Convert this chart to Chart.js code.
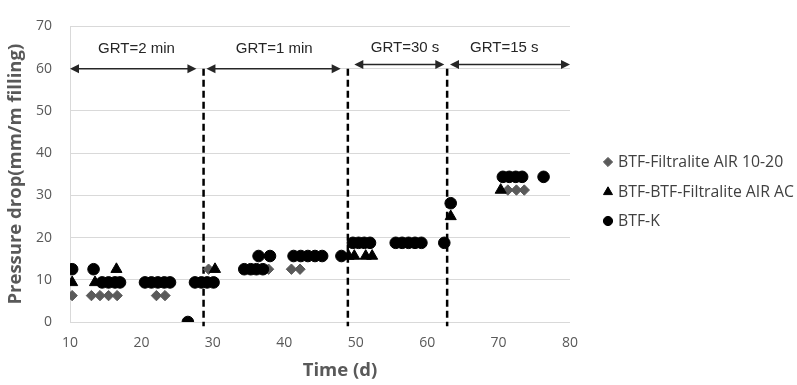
<!DOCTYPE html>
<html><head><meta charset="utf-8">
<script src="https://cdn.jsdelivr.net/npm/chart.js@4"></script>
<style>html,body{margin:0;padding:0;background:#fff}canvas{display:block}</style>
</head><body><canvas id="c" width="797" height="385" style="width:797px;height:385px"></canvas>
<script>
const seriesNames = ['BTF-Filtralite AIR 10-20', 'BTF-BTF-Filtralite AIR AC', 'BTF-K'];
const xTicks = [10, 20, 30, 40, 50, 60, 70, 80];
const yTicks = [0, 10, 20, 30, 40, 50, 60, 70];

const diamondX = [10.3, 13.0, 14.2, 15.4, 16.6, 22.1, 23.3, 29.4, 37.8, 41.0, 42.2, 71.3, 72.5, 73.6];
const diamondY = [6.25, 6.25, 6.25, 6.25, 6.25, 6.25, 6.25, 12.5, 12.5, 12.5, 12.5, 31.25, 31.25, 31.25];

const triangleX = [10.3, 13.5, 16.5, 30.3, 49.0, 49.8, 51.4, 52.3, 63.3, 70.3];
const triangleY = [9.375, 9.375, 12.5, 12.5, 15.625, 15.625, 15.625, 15.625, 25, 31.25];

const circleX = [10.3, 13.3, 14.5, 15.4, 16.3, 17.0, 20.5, 21.4, 22.3, 23.2, 24.0, 26.5, 27.5, 28.4, 29.2, 30.1,
  34.4, 35.3, 36.1, 37.0, 36.4, 38.0, 41.3, 42.3, 43.3, 44.3, 45.3, 48.0,
  49.6, 50.4, 51.2, 52.0, 55.6, 56.5, 57.4, 58.3, 59.2, 62.4, 63.3, 70.6, 71.5, 72.4, 73.3, 76.3];
const circleY = [12.5, 12.5, 9.375, 9.375, 9.375, 9.375, 9.375, 9.375, 9.375, 9.375, 9.375, 0, 9.375, 9.375, 9.375, 9.375,
  12.5, 12.5, 12.5, 12.5, 15.625, 15.625, 15.625, 15.625, 15.625, 15.625, 15.625, 15.625,
  18.75, 18.75, 18.75, 18.75, 18.75, 18.75, 18.75, 18.75, 18.75, 18.75, 28.125, 34.375, 34.375, 34.375, 34.375, 34.375];

const dividerX = [28.7, 48.9, 62.8];
const dividerTop = 60, dividerBottom = -1;

const phaseLabels = ['GRT=2 min', 'GRT=1 min', 'GRT=30 s', 'GRT=15 s'];
const phaseStart = [10, 29.1, 49.8, 63.2];
const phaseEnd = [27.7, 47.9, 62.4, 80];
const phaseArrowY = [60, 60, 61, 61];
const phaseLabelX = [19.3, 38.6, 56.9, 70.8];
const phaseLabelY = [64.6, 64.6, 65.0, 65.0];

const xTitle = 'Time (d)';
const yTitle = 'Pressure drop(mm/m filling)';

const pts = (xs, ys) => xs.map((x, i) => ({x, y: ys[i]}));
const FONT = "'Open Sans', 'Liberation Sans', sans-serif";

const dividerSets = dividerX.map(x => ({
  type: 'line', data: [{x, y: dividerTop}, {x, y: dividerBottom}], borderColor: '#000', borderWidth: 2.5,
  borderDash: [7, 4], pointRadius: 0, showLine: true, clip: false, order: 4, fill: false
}));

const arrowsPlugin = {
  id: 'arrows',
  afterDatasetsDraw(chart) {
    const {ctx, scales: {x, y}} = chart;
    ctx.save();
    ctx.strokeStyle = '#262626'; ctx.fillStyle = '#262626'; ctx.lineWidth = 1.5;
    const head = 9, hw = 4.5;
    phaseStart.forEach((s, i) => {
      const x1 = x.getPixelForValue(s), x2 = x.getPixelForValue(phaseEnd[i]), py = y.getPixelForValue(phaseArrowY[i]);
      ctx.beginPath(); ctx.moveTo(x1 + head - 1, py); ctx.lineTo(x2 - head + 1, py); ctx.stroke();
      ctx.beginPath(); ctx.moveTo(x1, py); ctx.lineTo(x1 + head, py - hw); ctx.lineTo(x1 + head, py + hw); ctx.closePath(); ctx.fill();
      ctx.beginPath(); ctx.moveTo(x2, py); ctx.lineTo(x2 - head, py - hw); ctx.lineTo(x2 - head, py + hw); ctx.closePath(); ctx.fill();
    });
    ctx.font = "15px 'Liberation Sans', Arial, sans-serif";
    ctx.textAlign = 'center'; ctx.textBaseline = 'middle';
    phaseLabels.forEach((t, i) => {
      ctx.fillText(t, x.getPixelForValue(phaseLabelX[i]), y.getPixelForValue(phaseLabelY[i]));
    });
    ctx.restore();
  },
  afterDraw(chart) {
    const {ctx} = chart;
    ctx.save();
    ctx.font = 'bold 18.5px ' + FONT; ctx.fillStyle = '#595959';
    ctx.textAlign = 'center'; ctx.textBaseline = 'middle';
    ctx.fillText(xTitle, 340, 371);
    const styles = ['rectRot', 'triangle', 'circle'];
    const colors = ['#595959', '#000', '#000'];
    const ly = [162, 192, 221];
    ctx.font = '15.8px ' + FONT; ctx.textAlign = 'left';
    styles.forEach((st, i) => {
      ctx.fillStyle = colors[i]; ctx.strokeStyle = colors[i]; ctx.lineWidth = 1;
      Chart.helpers.drawPoint(ctx, {pointStyle: st, radius: st === 'triangle' ? 5.2 : 4.6, borderWidth: 1}, 608, ly[i]);
      ctx.fillStyle = '#404040';
      ctx.fillText(seriesNames[i], 618, ly[i]);
    });
    ctx.restore();
  }
};

new Chart(document.getElementById('c'), {
  type: 'scatter',
  data: {
    datasets: [
      {label: seriesNames[2], data: pts(circleX, circleY), pointStyle: 'circle', pointRadius: 5.8, pointHoverRadius: 5.8,
        backgroundColor: '#000', borderColor: '#000', borderWidth: 1, order: 1},
      {label: seriesNames[1], data: pts(triangleX, triangleY), pointStyle: 'triangle', pointRadius: 6.4, pointHoverRadius: 6.4,
        backgroundColor: '#000', borderColor: '#000', borderWidth: 1, order: 2},
      {label: seriesNames[0], data: pts(diamondX, diamondY), pointStyle: 'rectRot', pointRadius: 5.2, pointHoverRadius: 5.2,
        backgroundColor: '#5a5a5a', borderColor: '#5a5a5a', borderWidth: 1, order: 3},
      ...dividerSets
    ]
  },
  options: {
    responsive: false, animation: false, devicePixelRatio: 1,
    layout: {padding: {top: 20, right: 227, left: 0, bottom: 0}},
    plugins: {legend: {display: false}, tooltip: {enabled: false}},
    scales: {
      x: {
        type: 'linear', min: 10, max: 80,
        afterBuildTicks: s => { s.ticks = xTicks.map(v => ({value: v})); },
        ticks: {font: {family: FONT, size: 14}, color: '#595959', padding: 13, maxRotation: 0},
        grid: {display: false, drawTicks: false}, border: {display: false},
        afterFit: s => { s.height = 63; }
      },
      y: {
        min: 0, max: 70,
        afterBuildTicks: s => { s.ticks = yTicks.map(v => ({value: v})); },
        ticks: {font: {family: FONT, size: 14}, color: '#595959', padding: 18},
        grid: {color: '#d9d9d9', lineWidth: 1, drawTicks: false},
        border: {display: true, color: '#d9d9d9', width: 1},
        title: {display: true, text: yTitle, font: {family: FONT, size: 18.5, weight: 'bold'}, color: '#595959', padding: {top: 5, bottom: 0}},
        afterFit: s => { s.width = 70; }
      }
    }
  },
  plugins: [arrowsPlugin]
});
</script></body></html>
